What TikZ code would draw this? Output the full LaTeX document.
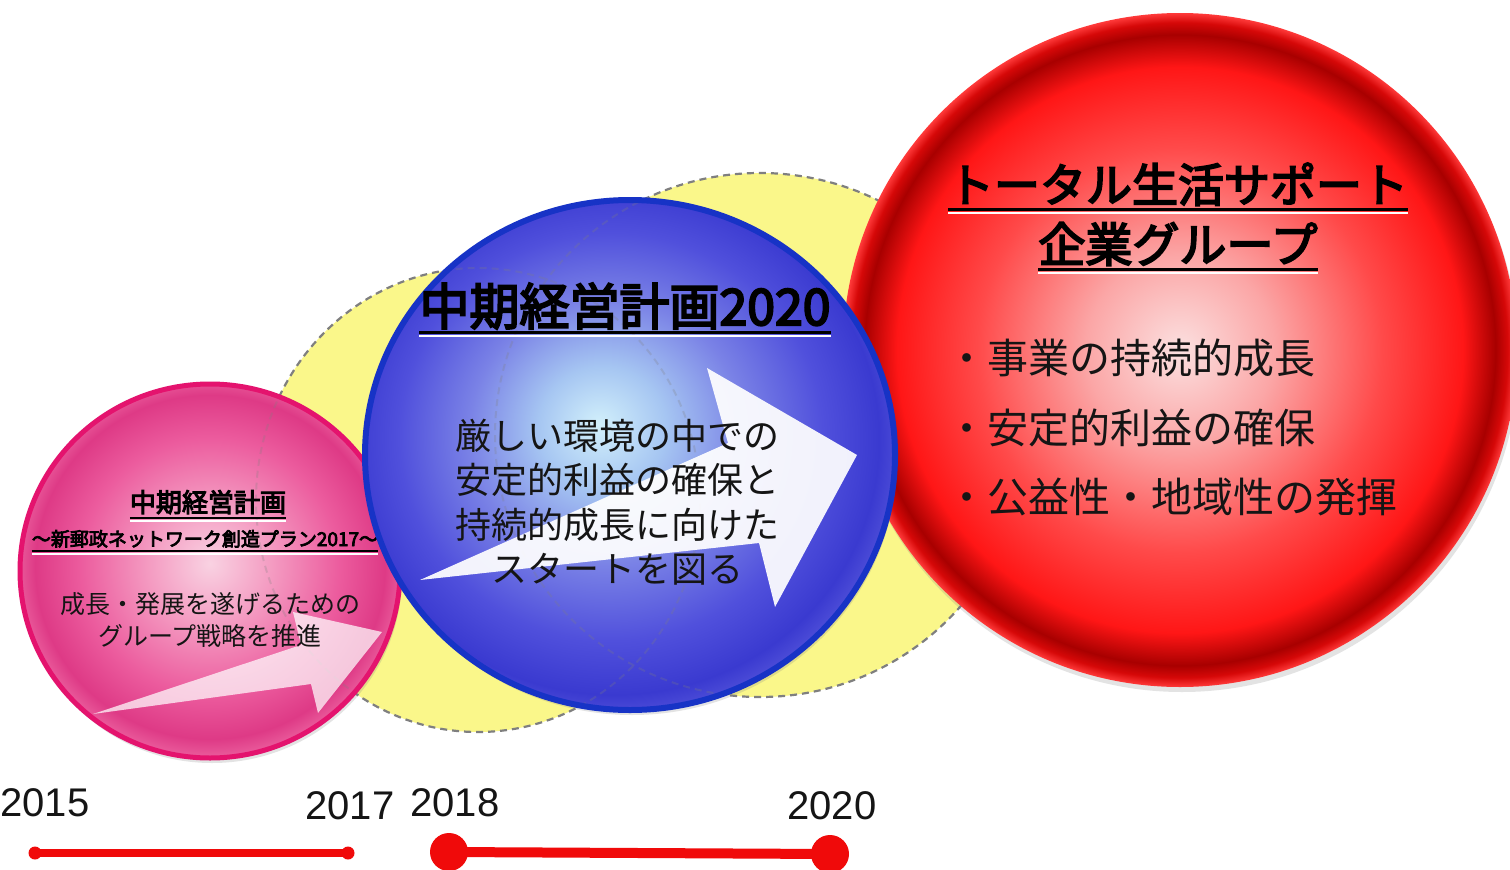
\documentclass[tikz,border=0pt]{standalone}
\usepackage{fontspec}
\setmainfont{Liberation Sans}
\newfontfamily\jp{Noto Sans CJK JP}
\newfontfamily\jpb{Noto Sans CJK JP}[FakeBold=4]
\usetikzlibrary{shadows}
\definecolor{yel}{HTML}{FAF78A}
\definecolor{dgray}{HTML}{7F7F7F}
\definecolor{tred}{HTML}{F00A0A}
\definecolor{rc0}{HTML}{FBE0E0}
\definecolor{rc1}{HTML}{FBA6A6}
\definecolor{rc2}{HTML}{FF4A4A}
\definecolor{rc3}{HTML}{FF1616}
\definecolor{rc4}{HTML}{A80000}
\definecolor{rc5}{HTML}{D60808}
\definecolor{rc6}{HTML}{FF3A3A}
\definecolor{bc0}{HTML}{D2F0FB}
\definecolor{bc1}{HTML}{A6C6F2}
\definecolor{bc2}{HTML}{7A82E6}
\definecolor{bc3}{HTML}{5050DC}
\definecolor{bc4}{HTML}{3A3AD0}
\definecolor{bc5}{HTML}{5858DC}
\definecolor{blueb}{HTML}{1733C6}
\definecolor{pc0}{HTML}{F9D2E2}
\definecolor{pc1}{HTML}{F49CC2}
\definecolor{pc2}{HTML}{EC5C9E}
\definecolor{pc3}{HTML}{DE3A86}
\definecolor{pc4}{HTML}{E85698}
\definecolor{pinkb}{HTML}{E4136E}
\definecolor{txt}{HTML}{151515}
\pgfdeclareradialshading{redball}{\pgfpoint{0bp}{0bp}}{color(0bp)=(rc0);color(7bp)=(rc1);color(15bp)=(rc2);color(21bp)=(rc3);color(23.4bp)=(rc4);color(24.3bp)=(rc5);color(25bp)=(rc6);color(50bp)=(rc6)}
\pgfdeclareradialshading{blueball}{\pgfpoint{-3bp}{3bp}}{color(0bp)=(bc0);color(6bp)=(bc1);color(13bp)=(bc2);color(20bp)=(bc3);color(25bp)=(bc4);color(28bp)=(bc5);color(50bp)=(bc5)}
\pgfdeclareradialshading{pinkball}{\pgfpoint{0bp}{1bp}}{color(0bp)=(pc0);color(8bp)=(pc1);color(17bp)=(pc2);color(23bp)=(pc3);color(25bp)=(pc4);color(50bp)=(pc4)}
\begin{document}
\begin{tikzpicture}[x=1pt,y=-1pt,
  yell/.style={fill=yel, draw=dgray, line width=2.2pt, dash pattern=on 7pt off 5pt},
  faint/.style={draw=dgray, line width=2pt, dash pattern=on 7pt off 5pt, draw opacity=.25},
  shad/.style={drop shadow={shadow xshift=2pt, shadow yshift=-5pt, opacity=.22}},
  ttl/.style={inner sep=0pt, anchor=base, text=black},
  uline/.style={line width=#1, black},
  wline/.style={line width=#1, white},
  body/.style={inner sep=0pt, align=center, text=txt},
  year/.style={inner sep=0pt, text=txt, font=\fontsize{40}{44}\selectfont},
  dot/.style={circle, fill=tred, inner sep=0pt, minimum size=#1}
]
\useasboundingbox (0,0) rectangle (1510,870);
\fill[white] (0,0) rectangle (1510,870);

% yellow dashed ellipses
\path[yell] (478,500) ellipse [x radius=222pt, y radius=232pt];
\path[yell] (760,435) ellipse [x radius=265pt, y radius=262pt];

% red circle
\shade[shading=redball, shad] (1180,350) ellipse [x radius=337pt, y radius=337pt];

% pink circle
\shade[shading=pinkball, draw=pinkb, line width=5pt, shad] (210,571) ellipse [x radius=190pt, y radius=187pt];
\begin{scope}
  \clip (210,571) ellipse [x radius=188pt, y radius=185pt];
  \path[faint] (478,500) ellipse [x radius=222pt, y radius=232pt];
\end{scope}
\fill[white, opacity=.72] (93,714) -- (301,645) -- (293,612) -- (382,632) -- (318,713) -- (311,684) -- cycle;

\node[ttl, font=\jpb\fontsize{26}{30}\selectfont] (pt1) at (208,512) {中期経営計画};
\draw[wline=2pt] ([yshift=-9pt]pt1.base west) -- ([yshift=-9pt]pt1.base east);
\draw[uline=2pt] ([yshift=-6pt]pt1.base west) -- ([yshift=-6pt]pt1.base east);
\node[ttl, font=\jpb\fontsize{19}{22}\selectfont] (pt2) at (205,546) {～新郵政ネットワーク創造プラン2017～};
\draw[wline=1.6pt] ([yshift=-8pt]pt2.base west) -- ([yshift=-8pt]pt2.base east);
\draw[uline=1.6pt] ([yshift=-5pt]pt2.base west) -- ([yshift=-5pt]pt2.base east);
\node[body, font=\jp\fontsize{25}{32}\selectfont] (pb) at (210,620) {成長・発展を遂げるための\\グループ戦略を推進};

% blue circle
\shade[shading=blueball, draw=blueb, line width=6pt, shad] (630,455) ellipse [x radius=265pt, y radius=255pt];
\begin{scope}
  \clip (630,455) ellipse [x radius=262pt, y radius=252pt];
  \path[faint] (478,500) ellipse [x radius=222pt, y radius=232pt];
  \path[faint] (760,435) ellipse [x radius=265pt, y radius=262pt];
\end{scope}
\fill[white, opacity=.93] (420,580) -- (728,443) -- (707,368) -- (857,455) -- (775,607) -- (759,543) -- cycle;

\node[ttl, font=\jpb\fontsize{50}{54}\selectfont] (bt) at (625,325) {中期経営計画2020};
\draw[wline=2.5pt] ([yshift=-11pt]bt.base west) -- ([yshift=-11pt]bt.base east);
\draw[uline=3pt] ([yshift=-7pt]bt.base west) -- ([yshift=-7pt]bt.base east);
\node[body, font=\jp\fontsize{36}{44.5}\selectfont] (bb) at (617,502) {厳しい環境の中での\\安定的利益の確保と\\持続的成長に向けた\\スタートを図る};

% red circle texts
\node[ttl, font=\jpb\fontsize{46}{50}\selectfont] (rt1) at (1178,202) {トータル生活サポート};
\draw[wline=2.5pt] ([yshift=-11pt]rt1.base west) -- ([yshift=-11pt]rt1.base east);
\draw[uline=3pt] ([yshift=-7pt]rt1.base west) -- ([yshift=-7pt]rt1.base east);
\node[ttl, font=\jpb\fontsize{47}{50}\selectfont] (rt2) at (1178,262) {企業グループ};
\draw[wline=2.5pt] ([yshift=-11pt]rt2.base west) -- ([yshift=-11pt]rt2.base east);
\draw[uline=3pt] ([yshift=-7pt]rt2.base west) -- ([yshift=-7pt]rt2.base east);
\node[inner sep=0pt, anchor=base west, text=txt, font=\jp\fontsize{41}{46}\selectfont] (r1) at (946,373) {・事業の持続的成長};
\node[inner sep=0pt, anchor=base west, text=txt, font=\jp\fontsize{41}{46}\selectfont] (r2) at (946,443) {・安定的利益の確保};
\node[inner sep=0pt, anchor=base west, text=txt, font=\jp\fontsize{41}{46}\selectfont] (r3) at (946,512) {・公益性・地域性の発揮};

% timeline
\node[year] (y15) at (45,803) {2015};
\node[year] (y17) at (350,806) {2017};
\node[year] (y18) at (455,803) {2018};
\node[year] (y20) at (832,806) {2020};
\node[dot=13pt] (d15) at (35,853) {};
\node[dot=13pt] (d17) at (348,853) {};
\draw[tred, line width=8pt] (d15.center) -- (d17.center);
\node[dot=38pt] (d18) at (449,852) {};
\node[dot=38pt] (d20) at (830,854) {};
\draw[tred, line width=10pt] (d18.center) -- (d20.center);
\end{tikzpicture}
\end{document}
